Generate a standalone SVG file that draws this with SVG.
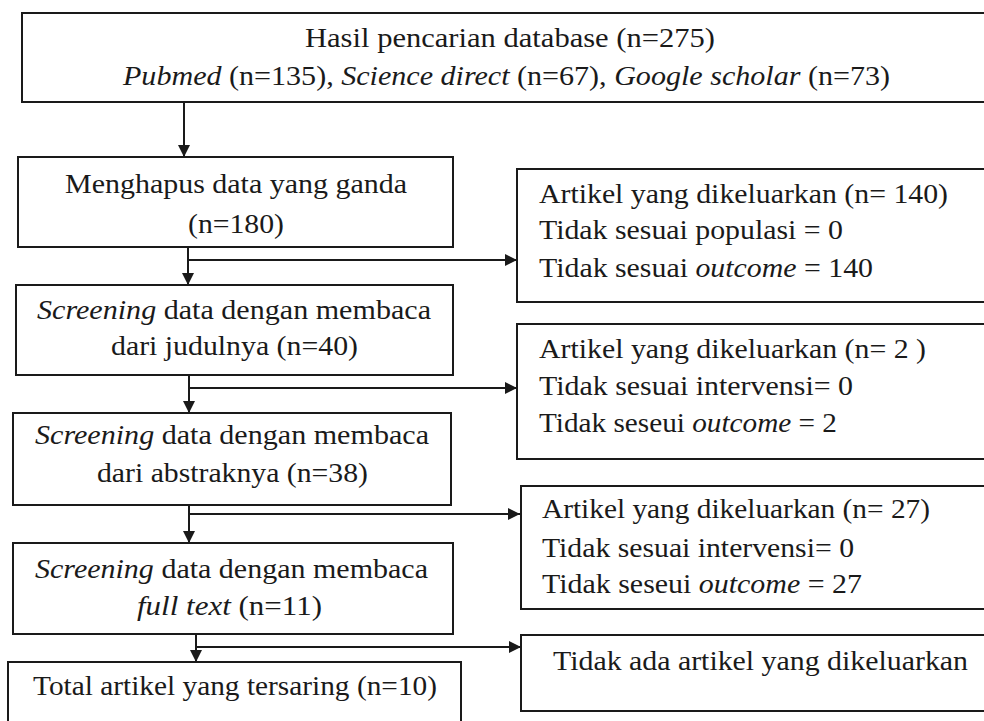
<svg xmlns="http://www.w3.org/2000/svg" width="984" height="721" viewBox="0 0 984 721">
<style>
.box{fill:#fff;stroke:#1a1a1a;stroke-width:2}
.t{font-family:'Liberation Serif','Times New Roman',Times,serif;font-size:28px;fill:#1a1a1a}
.i{font-style:italic}
.c{fill:none;stroke:#1a1a1a;stroke-width:2}
</style>
<defs>
<marker id="ah" viewBox="0 0 10 10" refX="10" refY="5" markerWidth="6" markerHeight="6" orient="auto" markerUnits="strokeWidth">
<path d="M0,0 L10,5 L0,10 Z" fill="#1a1a1a"/>
</marker>
</defs>
<rect width="984" height="721" fill="#fff"/>

<g id="connectors">
<line class="c" x1="184" y1="102" x2="184" y2="157" marker-end="url(#ah)"/>
<line class="c" x1="188" y1="247" x2="188" y2="285" marker-end="url(#ah)"/>
<line class="c" x1="188" y1="260" x2="517" y2="260" marker-end="url(#ah)"/>
<line class="c" x1="189" y1="375" x2="189" y2="413" marker-end="url(#ah)"/>
<line class="c" x1="189" y1="388" x2="517" y2="388" marker-end="url(#ah)"/>
<line class="c" x1="189" y1="505" x2="189" y2="543" marker-end="url(#ah)"/>
<line class="c" x1="189" y1="514" x2="520" y2="514" marker-end="url(#ah)"/>
<line class="c" x1="196" y1="634" x2="196" y2="662" marker-end="url(#ah)"/>
<line class="c" x1="196" y1="647" x2="521" y2="647" marker-end="url(#ah)"/>
</g>

<g id="n-search">
<rect class="box" x="22" y="13" width="980" height="89"/>
<text class="t" font-family="Liberation Serif" x="305" y="47" textLength="410" lengthAdjust="spacingAndGlyphs">Hasil pencarian database (n=275)</text>
<text class="t" font-family="Liberation Serif" x="123" y="85" textLength="767" lengthAdjust="spacingAndGlyphs"><tspan class="i">Pubmed</tspan> (n=135), <tspan class="i">Science direct</tspan> (n=67), <tspan class="i">Google scholar</tspan> (n=73)</text>
</g>

<g id="n-dedup">
<rect class="box" x="18" y="157" width="435" height="90"/>
<text class="t" x="65" y="193" textLength="342" lengthAdjust="spacingAndGlyphs">Menghapus data yang ganda</text>
<text class="t" x="188" y="233" textLength="96" lengthAdjust="spacingAndGlyphs">(n=180)</text>
</g>

<g id="n-title">
<rect class="box" x="16" y="285" width="437" height="90"/>
<text class="t" x="37" y="319" textLength="394" lengthAdjust="spacingAndGlyphs"><tspan class="i">Screening</tspan> data dengan membaca</text>
<text class="t" x="111" y="355" textLength="247" lengthAdjust="spacingAndGlyphs">dari judulnya (n=40)</text>
</g>

<g id="n-abstract">
<rect class="box" x="13" y="413" width="438" height="92"/>
<text class="t" x="35" y="444" textLength="394" lengthAdjust="spacingAndGlyphs"><tspan class="i">Screening</tspan> data dengan membaca</text>
<text class="t" x="97" y="482" textLength="271" lengthAdjust="spacingAndGlyphs">dari abstraknya (n=38)</text>
</g>

<g id="n-fulltext">
<rect class="box" x="13" y="543" width="440" height="91"/>
<text class="t" x="35" y="578" textLength="393" lengthAdjust="spacingAndGlyphs"><tspan class="i">Screening</tspan> data dengan membaca</text>
<text class="t" x="137" y="615" textLength="185" lengthAdjust="spacingAndGlyphs"><tspan class="i">full text</tspan> (n=11)</text>
</g>

<g id="n-total">
<rect class="box" x="8" y="662" width="453" height="80"/>
<text class="t" x="33" y="695" textLength="404" lengthAdjust="spacingAndGlyphs">Total artikel yang tersaring (n=10)</text>
</g>

<g id="n-excl1">
<rect class="box" x="517" y="169" width="480" height="133"/>
<text class="t" x="539" y="203" textLength="409" lengthAdjust="spacingAndGlyphs">Artikel yang dikeluarkan (n= 140)</text>
<text class="t" x="539" y="239" textLength="304" lengthAdjust="spacingAndGlyphs">Tidak sesuai populasi = 0</text>
<text class="t" x="539" y="277" textLength="334" lengthAdjust="spacingAndGlyphs">Tidak sesuai <tspan class="i">outcome</tspan> = 140</text>
</g>

<g id="n-excl2">
<rect class="box" x="517" y="324" width="480" height="135"/>
<text class="t" x="539" y="358" textLength="387" lengthAdjust="spacingAndGlyphs">Artikel yang dikeluarkan (n= 2 )</text>
<text class="t" x="539" y="395" textLength="314" lengthAdjust="spacingAndGlyphs">Tidak sesuai intervensi= 0</text>
<text class="t" x="539" y="432" textLength="298" lengthAdjust="spacingAndGlyphs">Tidak seseui <tspan class="i">outcome</tspan> = 2</text>
</g>

<g id="n-excl3">
<rect class="box" x="521" y="486" width="480" height="123"/>
<text class="t" x="542" y="518" textLength="388" lengthAdjust="spacingAndGlyphs">Artikel yang dikeluarkan (n= 27)</text>
<text class="t" x="542" y="557" textLength="312" lengthAdjust="spacingAndGlyphs">Tidak sesuai intervensi= 0</text>
<text class="t" x="542" y="593" textLength="320" lengthAdjust="spacingAndGlyphs">Tidak seseui <tspan class="i">outcome</tspan> = 27</text>
</g>

<g id="n-excl4">
<rect class="box" x="521" y="635" width="480" height="76"/>
<text class="t" x="553" y="670" textLength="415" lengthAdjust="spacingAndGlyphs">Tidak ada artikel yang dikeluarkan</text>
</g>
</svg>
